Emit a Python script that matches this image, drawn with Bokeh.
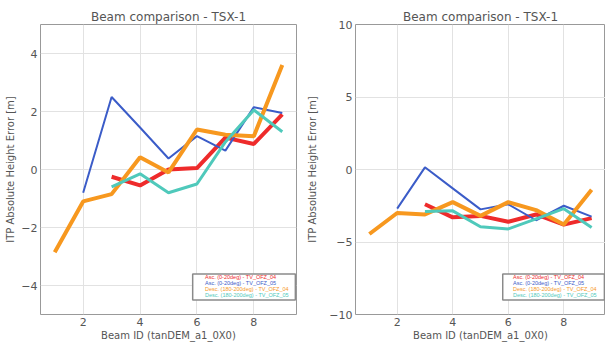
from bokeh.plotting import figure
from bokeh.layouts import row
from bokeh.models import Legend, LegendItem, FixedTicker, Range1d, BoxAnnotation
from bokeh.embed import file_html
from bokeh.resources import INLINE

beams = [1, 2, 3, 4, 5, 6, 7, 8, 9]
labels = ["Asc. (0-20deg) - TV_OFZ_04", "Asc. (0-20deg) - TV_OFZ_05",
          "Desc. (180-200deg) - TV_OFZ_04", "Desc. (180-200deg) - TV_OFZ_05"]
colors = ["#ee2b2b", "#3b5cc8", "#f7981f", "#4fc9bb"]
widths = [4, 2, 4, 3]

# left panel
l_asc04_x = [3, 4, 5, 6, 7, 8, 9]
l_asc04_y = [-0.25, -0.55, 0.0, 0.05, 1.1, 0.88, 1.9]
l_asc05_x = [2, 3, 4, 5, 6, 7, 8, 9]
l_asc05_y = [-0.8, 2.5, 1.45, 0.38, 1.15, 0.65, 2.15, 1.95]
l_desc04_x = [1, 2, 3, 4, 5, 6, 7, 8, 9]
l_desc04_y = [-2.85, -1.1, -0.85, 0.42, -0.1, 1.38, 1.2, 1.15, 3.6]
l_desc05_x = [3, 4, 5, 6, 7, 8, 9]
l_desc05_y = [-0.6, -0.15, -0.8, -0.5, 0.95, 2.05, 1.3]

# right panel
r_asc04_x = [3, 4, 5, 6, 7, 8, 9]
r_asc04_y = [-2.4, -3.3, -3.2, -3.6, -3.1, -3.8, -3.35]
r_asc05_x = [2, 3, 4, 5, 6, 7, 8, 9]
r_asc05_y = [-2.7, 0.15, -1.3, -2.75, -2.4, -3.5, -2.5, -3.25]
r_desc04_x = [1, 2, 3, 4, 5, 6, 7, 8, 9]
r_desc04_y = [-4.45, -3.0, -3.1, -2.25, -3.2, -2.25, -2.8, -3.8, -1.4]
r_desc05_x = [3, 4, 5, 6, 7, 8, 9]
r_desc05_y = [-2.9, -2.85, -3.95, -4.1, -3.4, -2.7, -4.0]

x_ticks = [2, 4, 6, 8]
l_yticks = [-4, -2, 0, 2, 4]
r_yticks = [-10, -5, 0, 5, 10]

FONT = "DejaVu Sans"
TXT = "#555555"


def make(width, bl, br, yr, yticks, series, box, legx, ylab_standoff):
    p = figure(width=width, height=343, output_backend="svg", toolbar_location=None,
               title="Beam comparison - TSX-1",
               x_range=Range1d(0.5, 9.5), y_range=Range1d(*yr),
               min_border_left=bl, min_border_right=br, min_border_top=24, min_border_bottom=26)
    p.title.align = "center"
    p.title.text_font = FONT
    p.title.text_font_style = "normal"
    p.title.text_font_size = "12px"
    p.title.text_color = TXT
    p.title.standoff = 2
    p.outline_line_color = "#999999"
    p.background_fill_color = "white"
    p.xaxis.ticker = FixedTicker(ticks=x_ticks)
    p.yaxis.ticker = FixedTicker(ticks=yticks)
    for ax in (p.xaxis[0], p.yaxis[0]):
        ax.axis_line_color = None
        ax.major_tick_line_color = None
        ax.minor_tick_line_color = None
        ax.major_tick_out = 0
        ax.major_tick_in = 0
        ax.minor_tick_out = 0
        ax.minor_tick_in = 0
        ax.major_label_text_font = FONT
        ax.major_label_text_font_size = "11px"
        ax.major_label_text_color = TXT
        ax.axis_label_text_font = FONT
        ax.axis_label_text_font_style = "normal"
        ax.axis_label_text_font_size = "10px"
        ax.axis_label_text_color = TXT
        ax.major_label_standoff = 3
        ax.axis_label_standoff = 1
    p.yaxis.axis_label_standoff = ylab_standoff
    p.xaxis.axis_label = "Beam ID (tanDEM_a1_0X0)"
    p.yaxis.axis_label = "ITP Absolute Height Error [m]"
    p.grid.grid_line_color = "#e2e2e2"
    rends = []
    for (xs, ys), c, w in zip(series, colors, widths):
        p.line(xs, ys, line_color=c, line_width=w)
        rends.append(p.line([], [], line_color=c, line_width=1.5))
    p.add_layout(BoxAnnotation(left=box[0], right=box[1], bottom=box[2], top=box[3],
                               fill_color="white", fill_alpha=1.0,
                               line_color="#8a8a8a", line_alpha=1.0, line_width=1.5))
    for i, (r, lab, c) in enumerate(zip(rends, labels, colors)):
        lg = Legend(items=[LegendItem(label=lab, renderers=[r])],
                    location=(legx, 16 + (3 - i) * 6),
                    label_text_font="Liberation Sans", label_text_font_size="5.5px",
                    label_text_color=c, label_height=6, glyph_height=6, glyph_width=7,
                    label_standoff=3, padding=0, margin=0, spacing=0,
                    border_line_color=None, background_fill_alpha=0)
        p.add_layout(lg)
    return p


left = make(300, 40, 4, (-5, 5), l_yticks,
            [(l_asc04_x, l_asc04_y), (l_asc05_x, l_asc05_y),
             (l_desc04_x, l_desc04_y), (l_desc05_x, l_desc05_y)],
            (5.85, 9.46, -4.5, -3.6), 155, 2)
right = make(305, 55, 0, (-10, 10), r_yticks,
             [(r_asc04_x, r_asc04_y), (r_asc05_x, r_asc05_y),
              (r_desc04_x, r_desc04_y), (r_desc05_x, r_desc05_y)],
             (5.8, 9.46, -9.0, -7.2), 148, 8)

layout = row(left, right)
open("out.html", "w").write(file_html(layout, INLINE))
